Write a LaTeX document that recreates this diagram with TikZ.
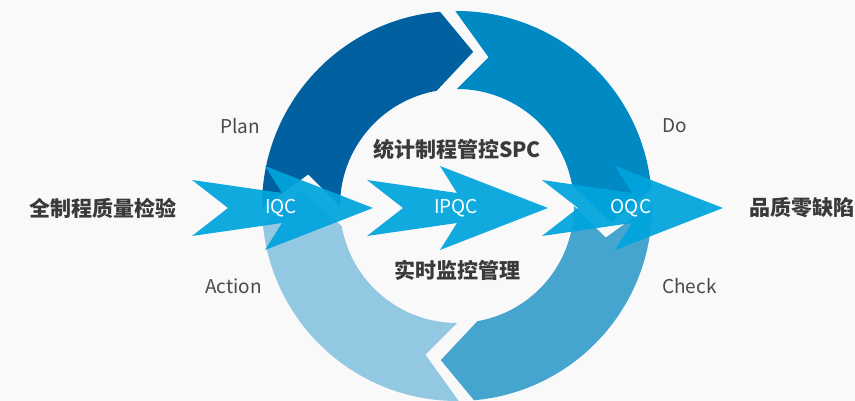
\documentclass[tikz,border=0pt]{standalone}
\usepackage{fontspec}
\setmainfont{Noto Sans CJK SC}
\usetikzlibrary{positioning,calc}
\definecolor{bgcol}{HTML}{F9F9F9}
\definecolor{plancol}{HTML}{0060A0}
\definecolor{docol}{HTML}{0089C3}
\definecolor{checkcol}{HTML}{45A5CF}
\definecolor{actcol}{HTML}{93C8E2}
\definecolor{flowcol}{HTML}{00A4DD}
\definecolor{textcol}{HTML}{3A3A3A}
\definecolor{labelcol}{HTML}{4A4A4A}

\begin{document}
\begin{tikzpicture}[x=1pt,y=1pt,
			every node/.style={inner sep=0pt},
			phase/.style={font=\fontsize{19}{20}\selectfont,text=labelcol},
			topic/.style={font=\bfseries\fontsize{21}{22}\selectfont,text=textcol},
			flow/.style={fill=flowcol,fill opacity=0.93},
			flowlabel/.style={font=\fontsize{19}{20}\selectfont,text=white},
		]
		
		\fill[bgcol] (0,0) rectangle (855,401);
		\useasboundingbox (0,0) rectangle (855,401);
		
		\coordinate (c) at (457,195);
		
		% ring, one quarter per phase
		\foreach \col/\a in {plancol/180, docol/90, checkcol/0, actcol/-90}
		{
			\fill[\col,shift={(c)}] (\a+0.5:195) arc[start angle=\a+0.5, end angle=\a-85, radius=195]
				-- (\a-96:155) -- (\a-80:117) arc[start angle=\a-80, end angle=\a, radius=117]
				-- (\a-12:152) -- cycle;
		}
		
		% flow arrows
		\foreach \x/\name in {192/IQC, 367/IPQC, 542/OQC}
		{
			\fill[flow] (\x,221) -- (\x+90,208) -- (\x+73,235) -- (\x+181,193)
				-- (\x+73,151) -- (\x+90,178) -- (\x,165) -- (\x+36,193) -- cycle;
			\coordinate (\name-tip) at (\x+181,193);
			\node[flowlabel] (\name) at (\x+89,193) {\name};
		}
		
		\node[phase,anchor=east] (plan) at (260,275) {Plan};
		\node[phase,anchor=east] (action) at (262,115) {Action};
		\node[phase,anchor=west] (do) at (662,275) {Do};
		\node[phase,anchor=west] (check) at (662,115) {Check};
		
		\node[topic] (spc) at (457,251) {统计制程管控SPC};
		\node[topic] (monitor) at (457,131) {实时监控管理};
		\node[topic,anchor=east] (inspect) at (177,193) {全制程质量检验};
		\node[topic,anchor=west] (zero) [right=26pt of OQC-tip] {品质零缺陷};
		
	\end{tikzpicture}
\end{document}
